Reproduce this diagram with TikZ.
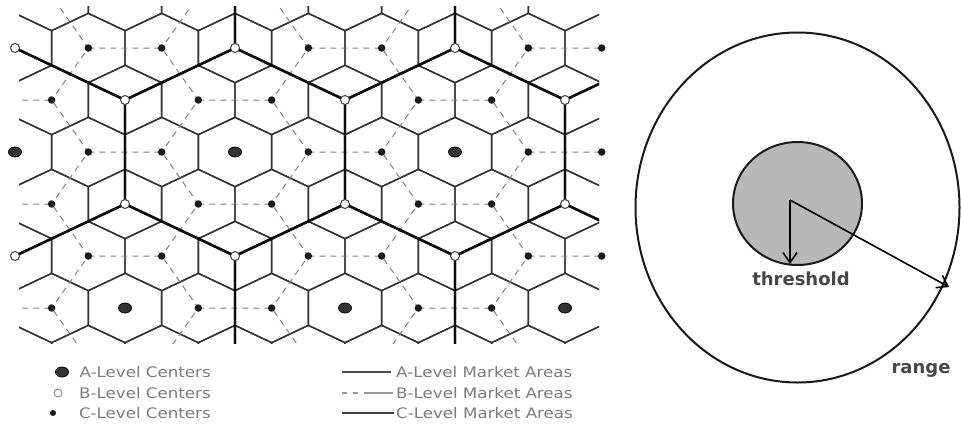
\documentclass[tikz,border=0pt]{standalone}
\usepackage{fontspec}
\newfontfamily\lblfont{DejaVu Sans}
\newfontfamily\legfont[FakeStretch=1.15]{DejaVu Sans}
\usetikzlibrary{arrows.meta,shapes.geometric}
\definecolor{thrfill}{HTML}{B8B8B8}
\definecolor{legtxt}{HTML}{7C7C7C}
\begin{document}
\begin{tikzpicture}[x=1pt,y=-1pt,
 chex/.style={draw=black!80,line width=1.4pt,line join=round},
 bdash/.style={draw=black!50,line width=1pt,dash pattern=on 6pt off 5pt},
 ahex/.style={draw=black!95,line width=2.4pt,line join=round},
 acen/.style={ellipse,fill=black!80,draw=black,line width=0.8pt,minimum width=13pt,minimum height=10pt,inner sep=0pt},
 bcen/.style={circle,draw=black!75,fill=white,line width=1pt,minimum size=9pt,inner sep=0pt},
 ccen/.style={circle,fill=black!90,minimum size=7.5pt,inner sep=0pt},
 lbl/.style={font=\lblfont\bfseries\fontsize{18}{20}\selectfont,text=black!72,inner sep=0pt},
 legtext/.style={font=\legfont\fontsize{14.5}{16}\selectfont,text=legtxt,inner sep=0pt},
 arr/.style={line width=1.6pt,-{Straight Barb[length=10pt,width=14pt]}}
]
\useasboundingbox (0,0) rectangle (961,424);
\fill[white] (0,0) rectangle (961,424);
\def\DX{36.667}\def\DY{52}\def\OX{15}\def\OY{48}

\begin{scope}
\clip (19,6) rectangle (599,343);
% C-level market areas
\foreach \j in {-1,...,7}{
 \foreach \u in {-2,...,18}{
  \pgfmathtruncatemacro{\pq}{mod(\u+\j+20,2)}
  \ifnum\pq=0
   \draw[chex,shift={({\OX+\DX*\u},{\OY+\DY*\j})}] (0,-34.667) -- (36.667,-17.333) -- (36.667,17.333) -- (0,34.667) -- (-36.667,17.333) -- (-36.667,-17.333) -- cycle;
  \fi
 }}
% B-level market areas (dashed)
\foreach \j in {-2,...,8}{
 \foreach \u in {-6,-3,...,21}{
  \pgfmathtruncatemacro{\pq}{mod(\u+\j+40,2)}
  \ifnum\pq=0
   \draw[bdash] ({\OX+\DX*(\u-1)},{\OY+\DY*(\j-1)}) -- ({\OX+\DX*(\u+1)},{\OY+\DY*(\j-1)}) -- ({\OX+\DX*(\u+2)},{\OY+\DY*\j}) -- ({\OX+\DX*(\u+1)},{\OY+\DY*(\j+1)});
  \fi
 }}
% A-level market areas
\foreach \u/\j in {-3/-1,3/-1,9/-1,15/-1,21/-1,0/2,6/2,12/2,18/2,-3/5,3/5,9/5,15/5,21/5}{
 \draw[ahex] ({\OX+\DX*\u},{\OY+\DY*(\j-2)}) -- ({\OX+\DX*(\u+3)},{\OY+\DY*(\j-1)}) -- ({\OX+\DX*(\u+3)},{\OY+\DY*(\j+1)}) -- ({\OX+\DX*\u},{\OY+\DY*(\j+2)}) -- ({\OX+\DX*(\u-3)},{\OY+\DY*(\j+1)}) -- ({\OX+\DX*(\u-3)},{\OY+\DY*(\j-1)}) -- cycle;
}
\end{scope}

% centres
\foreach \j in {0,...,5}{
 \foreach \u in {0,...,16}{
  \pgfmathtruncatemacro{\pq}{mod(\u+\j+20,2)}
  \ifnum\pq=0
   \pgfmathtruncatemacro{\pt}{mod(\u,3)}
   \ifnum\pt=0
    \pgfmathtruncatemacro{\pa}{mod(\j-\u-2+60,6)}
    \ifnum\pa=0
     \node[acen] (a-\u-\j) at ({\OX+\DX*\u},{\OY+\DY*\j}) {};
    \else
     \node[bcen] (b-\u-\j) at ({\OX+\DX*\u},{\OY+\DY*\j}) {};
    \fi
   \else
    \node[ccen] (c-\u-\j) at ({\OX+\DX*\u},{\OY+\DY*\j}) {};
   \fi
  \fi
 }}

% legend
\node[acen] (la) at (62,372) {};
\node[legtext,anchor=east] (lta) at (211,372) {A-Level Centers};
\node[bcen,minimum size=8pt,draw=black!45] (lb) at (58,393) {};
\node[legtext,anchor=east] (ltb) at (211,393) {B-Level Centers};
\node[ccen,minimum size=6pt] (lc) at (53,413) {};
\node[legtext,anchor=east] (ltc) at (211,413) {C-Level Centers};

\coordinate (la1) at (342,372); \coordinate (la2) at (391,372);
\draw[black!70,line width=1.1pt] (la1) -- (la2);
\node[legtext,anchor=west] (lma) at (396,372) {A-Level Market Areas};
\coordinate (lb1) at (342,393); \coordinate (lb2) at (393,393);
\draw[black!40,line width=1.2pt,dash pattern={on 5pt off 6pt on 5pt off 6pt on 30pt}] (lb1) -- (lb2);
\node[legtext,anchor=west] (lmb) at (396,393) {B-Level Market Areas};
\coordinate (lc1) at (342,413); \coordinate (lc2) at (394,413);
\draw[black!75,line width=1.6pt] (lc1) -- (lc2);
\node[legtext,anchor=west] (lmc) at (396,413) {C-Level Market Areas};

% threshold and range
\node[draw=black!90,ellipse,line width=2pt,minimum width=324pt,minimum height=350pt,inner sep=0pt] (rangecirc) at (797.5,207.5) {};
\node[draw=black!90,ellipse,fill=thrfill,line width=2pt,minimum width=129pt,minimum height=123pt,inner sep=0pt] (thrcirc) at (797.5,203.5) {};
\coordinate (ctr) at (790,200);
\coordinate (tend) at (790,264);
\coordinate (rend) at (949,287);
\draw[arr] (ctr) -- (tend);
\draw[arr] (ctr) -- (rend);
\node[lbl,anchor=base] (thrlbl) at (801,285) {threshold};
\node[lbl,anchor=base] (rnglbl) at (921,373) {range};
\end{tikzpicture}
\end{document}
